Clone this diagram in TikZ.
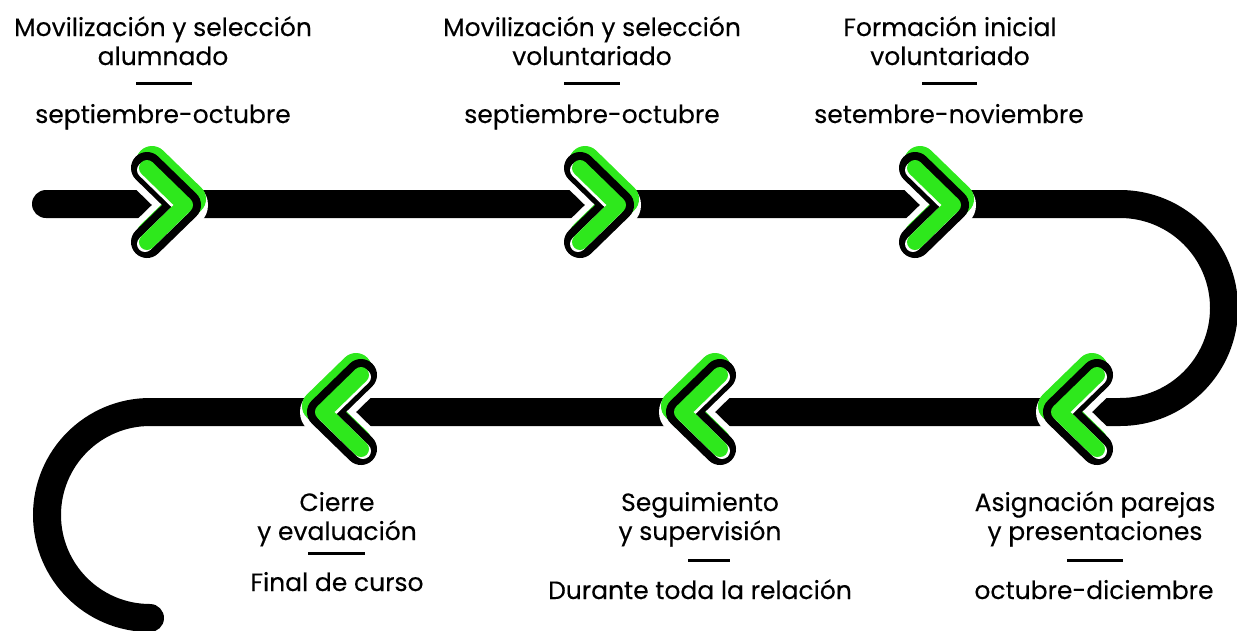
\documentclass[tikz,border=0pt]{standalone}
\usepackage{fontspec}
\setmainfont{Poppins}[FakeBold=0.25]
\definecolor{chgreen}{RGB}{46,232,28}
\tikzset{
  chev/.style={line cap=round, line join=round},
  track/.style={line width=28pt, line cap=round, black},
  lbl/.style={font=\fontsize{25}{29}\selectfont, anchor=base, inner sep=0pt, text=black},
  sep/.style={line width=3pt, black},
  chevright/.pic={
    \draw[chev, white, line width=46pt] (-38,-37)--(0,0)--(-38,37);
    \draw[chev, chgreen, line width=32pt, shift={(5,-6)}] (-38,-37)--(0,0)--(-38,37);
    \draw[chev, black, line width=32pt] (-38,-37)--(0,0)--(-38,37);
    \draw[chev, white, line width=16pt, shift={(-2,2)}] (-38,-37)--(0,0)--(-38,37);
    \draw[chev, chgreen, line width=16pt] (-38,-37)--(0,0)--(-38,37);
  }
}
\begin{document}
\begin{tikzpicture}[x=1pt,y=-1pt]
\useasboundingbox (0,0) rectangle (1237,630);
% track
\draw[track] (46,204) -- (1120,204) arc[start angle=-90, end angle=90, radius=104]
  -- (150,412) arc[start angle=-90, end angle=-270, radius=103];
% chevrons top
\pic at (185,205) {chevright};
\pic at (618,205) {chevright};
\pic at (953,205) {chevright};
% chevrons bottom
\pic[xscale=-1] at (1059,412) {chevright};
\pic[xscale=-1] at (682,412) {chevright};
\pic[xscale=-1] at (323,412) {chevright};
% texts top
\node[lbl] (a1) at (163,36) {Movilización y selección};
\node[lbl] (a2) at (163,65) {alumnado};
\draw[sep] (136,83) -- (192,83);
\node[lbl] (a3) at (163,123) {septiembre-octubre};
\node[lbl] (b1) at (592,36) {Movilización y selección};
\node[lbl] (b2) at (592,65) {voluntariado};
\draw[sep] (564,83) -- (620,83);
\node[lbl] (b3) at (592,123) {septiembre-octubre};
\node[lbl] (c1) at (950,36) {Formación inicial};
\node[lbl] (c2) at (950,65) {voluntariado};
\draw[sep] (922,83) -- (977,83);
\node[lbl] (c3) at (949,123) {setembre-noviembre};
% texts bottom
\node[lbl] (d1) at (1095,511) {Asignación parejas};
\node[lbl] (d2) at (1095,540) {y presentaciones};
\draw[sep] (1067,560) -- (1123,560);
\node[lbl] (d3) at (1094,599) {octubre-diciembre};
\node[lbl] (e1) at (700,511) {Seguimiento};
\node[lbl] (e2) at (700,540) {y supervisión};
\draw[sep] (688,560) -- (730,560);
\node[lbl] (e3) at (700,599) {Durante toda la relación};
\node[lbl] (f1) at (337,511) {Cierre};
\node[lbl] (f2) at (337,540) {y evaluación};
\draw[sep] (308,553) -- (365,553);
\node[lbl] (f3) at (337,591) {Final de curso};
\end{tikzpicture}
\end{document}
